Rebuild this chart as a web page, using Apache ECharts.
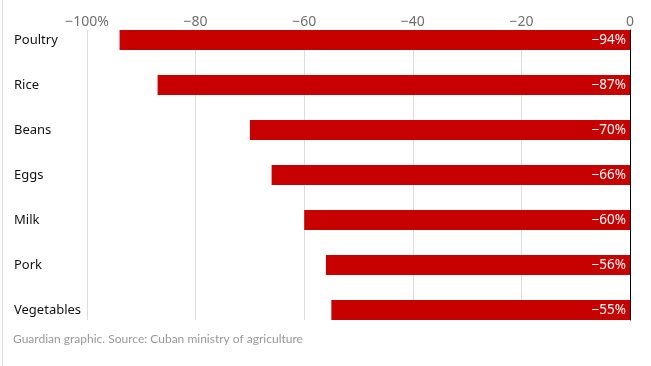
<!DOCTYPE html>
<html><head><meta charset="utf-8">
<script src="https://cdn.jsdelivr.net/npm/echarts@6/dist/echarts.min.js"></script>
<style>html,body{margin:0;padding:0;background:#fff}#c{width:651px;height:366px}</style>
</head><body><div id="c"></div>
<script>
const categories = ['Poultry','Rice','Beans','Eggs','Milk','Pork','Vegetables'];
const values = [-94,-87,-70,-66,-60,-56,-55];
const tickValues = [-100,-80,-60,-40,-20,0];
const tickLabels = ['\u2212100%','\u221280','\u221260','\u221240','\u221220','0'];
const source = 'Guardian graphic. Source: Cuban ministry of agriculture';

const FONT = '"Noto Sans", sans-serif';
const chart = echarts.init(document.getElementById('c'), null, {renderer:'canvas'});
chart.setOption({
  animation:false,
  grid:[
    {left:87, right:21, top:17.5, height:315},
    {left:87, right:21, top:30, height:290}
  ],
  xAxis:[
    {gridIndex:0, type:'value', min:-100, max:0, interval:20, show:false},
    {gridIndex:1, type:'value', min:-100, max:0, interval:20, position:'top',
     axisLine:{show:false}, axisTick:{show:false},
     splitLine:{show:true, lineStyle:{color:'#dcdcdc', width:1}},
     axisLabel:{margin:1, color:'#707070', fontSize:14, fontFamily:FONT,
       formatter:function(v){const i=tickValues.indexOf(v); return i>=0?tickLabels[i]:'';}}}
  ],
  yAxis:[
    {gridIndex:0, type:'category', data:categories, inverse:true,
     axisLine:{show:false}, axisTick:{show:false}, splitLine:{show:false},
     axisLabel:{align:'left', margin:73, color:'#121212', fontSize:13, fontFamily:FONT}},
    {gridIndex:1, type:'value', position:'right', min:0, max:1,
     axisLine:{show:true, lineStyle:{color:'#000', width:1}},
     axisTick:{show:false}, axisLabel:{show:false}, splitLine:{show:false}}
  ],
  series:[{
    type:'bar', xAxisIndex:0, yAxisIndex:0, data:values, barWidth:20,
    itemStyle:{color:'#c70000'},
    label:{show:true, position:'insideRight', distance:4, color:'#fff', fontSize:13.5, fontFamily:FONT,
      formatter:function(p){return '\u2212'+Math.abs(p.value)+'%';}}
  }],
  graphic:[
    {type:'line', shape:{x1:2.5,y1:0,x2:2.5,y2:366}, style:{stroke:'#dcdcdc', lineWidth:1}},
    {type:'text', left:13, top:333, style:{text:source, fill:'#999', fontSize:12, fontFamily:'Lato, sans-serif'}}
  ]
});
</script></body></html>
